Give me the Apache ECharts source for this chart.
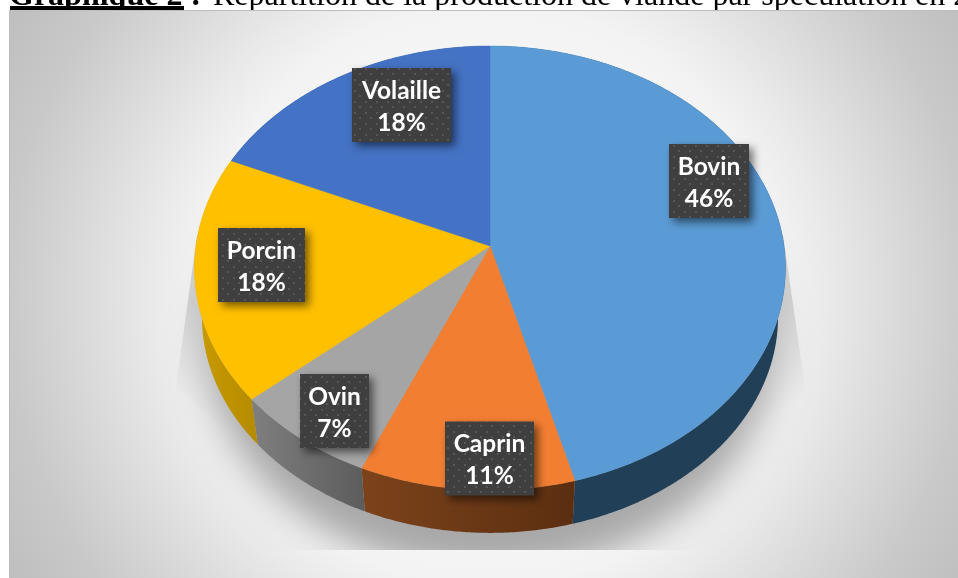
<!DOCTYPE html>
<html>
<head>
<meta charset="utf-8">
<title>Graphique 2</title>
<script src="https://cdn.jsdelivr.net/npm/echarts@6/dist/echarts.min.js"></script>
<style>
html,body{margin:0;padding:0;background:#fff;}
#main{width:958px;height:578px;}
</style>
</head>
<body>
<div id="main"></div>
<script>
// valeurs
var categories = ["Bovin","Caprin","Ovin","Porcin","Volaille"];
var values = [45.8,10.7,7.2,17.9,18.4];
var topColors = ["#5b9bd5","#f27e32","#a5a5a5","#ffc000","#4472c4"];
var wallLeft = ["#223f58","#7c431b","#7f7f7f","#c99b00","#2d4a80"];
var wallRight = ["#223f58","#5b2e10","#5c5c5c","#b58b00","#2d4a80"];
// centre des etiquettes, pas les donnees
var labelCenters = [[709,181],[489.5,458.5],[334.5,411],[261.5,265],[401.5,105]];
var labelWidths = [80,89,69,87,99];

// pie en perspective
var cx = 490, cy = 246, rx = 294, ry = 219.8, persp = 0.0991;
var wallDy = 49, wallScale = 0.975;

var total = 0;
for(var i=0;i<values.length;i++){ total += values[i]; }
var seriesData = [];
var cum = 0;
for(var i=0;i<values.length;i++){
	seriesData.push([i, cum/total*360, (cum+values[i])/total*360]);
	cum += values[i];
}

function rim(deg){
	var a = deg*Math.PI/180;
	var u = Math.sin(a), v = -Math.cos(a);
	var w = 1-persp*v;
	return [cx+rx*u/w, cy+ry*v/w];
}
function lowerRim(deg){
	var p = rim(deg);
	return [cx+(p[0]-cx)*wallScale, cy+wallDy+(p[1]-cy)*wallScale];
}
function arcPoints(fn,a0,a1){
	var pts = [];
	var n = Math.max(2,Math.ceil((a1-a0)*2));
	for(var j=0;j<=n;j++){
		pts.push(fn(a0+(a1-a0)*j/n));
	}
	return pts;
}
function renderWall(params,api){
	var idx = api.value(0), a0 = api.value(1), a1 = api.value(2);
	var pts = arcPoints(rim,a0,a1).concat(arcPoints(lowerRim,a0,a1).reverse());
	var xs = pts.map(function(p){return p[0];});
	var minX = Math.min.apply(null,xs), maxX = Math.max.apply(null,xs);
	return {
		type:'polygon',
		shape:{points:pts},
		style:{
			fill:{type:'linear',x:minX,y:0,x2:maxX,y2:0,global:true,colorStops:[
				{offset:0,color:wallLeft[idx]},{offset:1,color:wallRight[idx]}
			]},
			stroke:null
		}
	};
}
function renderTop(params,api){
	var idx = api.value(0), a0 = api.value(1), a1 = api.value(2);
	var pts = [[cx,cy]].concat(arcPoints(rim,a0,a1));
	return {
		type:'polygon',
		shape:{points:pts},
		style:{fill:topColors[idx],stroke:topColors[idx],lineWidth:0.5}
	};
}

// motif a pois du fond des etiquettes
var dotCanvas = document.createElement('canvas');
dotCanvas.width = 11; dotCanvas.height = 11;
var dctx = dotCanvas.getContext('2d');
dctx.fillStyle = '#3f3f3f';
dctx.fillRect(0,0,11,11);
dctx.fillStyle = '#565656';
dctx.fillRect(2,2,2,2);
dctx.fillRect(7,7,2,2);

function renderLabel(params,api){
	var idx = api.value(0);
	var c = labelCenters[idx], w = labelWidths[idx], h = 74;
	return {
		type:'group',
		children:[{
			type:'rect',
			shape:{x:c[0]-w/2,y:c[1]-h/2,width:w,height:h},
			style:{
				fill:{image:dotCanvas,repeat:'repeat'},
				shadowBlur:8,shadowColor:'rgba(0,0,0,0.55)',shadowOffsetX:4,shadowOffsetY:4
			}
		},{
			type:'text',
			style:{
				x:c[0],y:c[1]+2,
				text:categories[idx]+"\n"+Math.round(values[idx])+"%",
				fill:'#fff',
				font:'bold 24.5px Lato',
				lineHeight:32,
				align:'center',
				verticalAlign:'middle'
			}
		}]
	};
}

// ombre au sol: l'ellipse est hors cadre, seule son ombre floue se voit
var shadowShift = 2000;
var shadowPts = [];
for(var d=0;d<360;d+=2){
	var t = d*Math.PI/180;
	shadowPts.push([490-shadowShift+282*Math.cos(t),347+226*Math.sin(t)]);
}
var panelFill = {type:'radial',x:490,y:295,r:580,global:true,colorStops:[
	{offset:0,color:'#ffffff'},{offset:0.5,color:'#f3f3f3'},{offset:0.58,color:'#eaeaea'},
	{offset:0.83,color:'#c9c9c9'},{offset:1,color:'#bbbbbb'}
]};
function wedgeFill(x0,x1){
	return {type:'linear',x:x0,y:395,x2:x1,y2:330,global:true,colorStops:[
		{offset:0,color:'rgba(185,185,185,0)'},{offset:1,color:'rgba(185,185,185,0.6)'}
	]};
}

var chart = echarts.init(document.getElementById('main'),null,{renderer:'canvas'});
chart.setOption({
	animation:false,
	backgroundColor:'#ffffff',
	graphic:[
		{type:'text',z:0,style:{
			x:9,y:12.5,text:'Graphique 2 :',fill:'#000',
			font:'bold 32px "Liberation Serif"',align:'left',verticalAlign:'bottom'
		}},
		{type:'text',z:0,style:{
			x:213,y:12.5,text:'Répartition de la production de viande par spéculation en 2',fill:'#000',
			font:'32px "Liberation Serif"',align:'left',verticalAlign:'bottom'
		}},
		{type:'rect',z:0,shape:{x:10,y:6,width:174,height:4},style:{fill:'#000'}},
		{type:'rect',z:1,shape:{x:9.5,y:10.5,width:950,height:570},style:{fill:panelFill,stroke:'#bdbdbd',lineWidth:1}},
		{type:'polygon',z:1,shape:{points:shadowPts},style:{
			fill:'#a8a8a8',shadowBlur:36,shadowColor:'#a8a8a8',shadowOffsetX:shadowShift
		}},
		{type:'polygon',z:1,shape:{points:[[197,235],[176,388],[230,432],[230,235]]},style:{fill:wedgeFill(175,225)}},
		{type:'polygon',z:1,shape:{points:[[783,235],[806,395],[750,437],[750,235]]},style:{fill:wedgeFill(805,755)}},
		{type:'rect',z:2,shape:{x:10,y:550,width:948,height:28},style:{fill:panelFill}}
	],
	series:[
		{type:'custom',coordinateSystem:'none',z:3,silent:true,renderItem:renderWall,data:seriesData},
		{type:'custom',coordinateSystem:'none',z:4,silent:true,renderItem:renderTop,data:seriesData},
		{type:'custom',coordinateSystem:'none',z:5,silent:true,renderItem:renderLabel,data:seriesData}
	]
});
</script>
</body>
</html>
